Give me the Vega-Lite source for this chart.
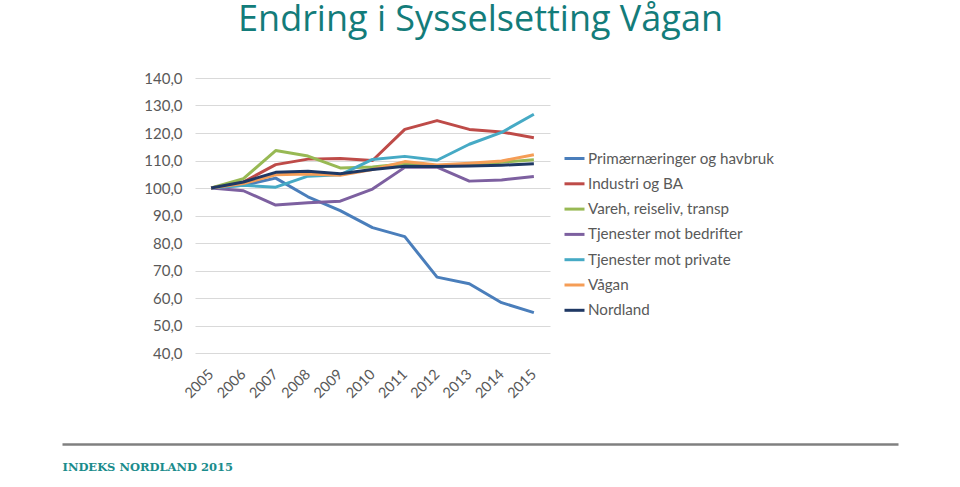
{
  "$schema": "https://vega.github.io/schema/vega-lite/v6.json",
  "background": "white",
  "padding": {"left": 62, "top": 2, "right": 62, "bottom": 5},
  "title": {"text": "Endring i Sysselsetting Vågan", "font": "Open Sans", "fontSize": 36, "fontWeight": "normal", "color": "#137C7A", "anchor": "middle", "offset": 32, "dx": -66},
  "datasets": {
    "sysselsetting": [
      {"series": "Primærnæringer og havbruk", "year": "2005", "value": 100},
      {"series": "Primærnæringer og havbruk", "year": "2006", "value": 101},
      {"series": "Primærnæringer og havbruk", "year": "2007", "value": 103.6},
      {"series": "Primærnæringer og havbruk", "year": "2008", "value": 96.8},
      {"series": "Primærnæringer og havbruk", "year": "2009", "value": 91.8},
      {"series": "Primærnæringer og havbruk", "year": "2010", "value": 85.6},
      {"series": "Primærnæringer og havbruk", "year": "2011", "value": 82.3},
      {"series": "Primærnæringer og havbruk", "year": "2012", "value": 67.6},
      {"series": "Primærnæringer og havbruk", "year": "2013", "value": 65.2},
      {"series": "Primærnæringer og havbruk", "year": "2014", "value": 58.3},
      {"series": "Primærnæringer og havbruk", "year": "2015", "value": 54.7},
      {"series": "Industri og BA", "year": "2005", "value": 100},
      {"series": "Industri og BA", "year": "2006", "value": 102.2},
      {"series": "Industri og BA", "year": "2007", "value": 108.5},
      {"series": "Industri og BA", "year": "2008", "value": 110.5},
      {"series": "Industri og BA", "year": "2009", "value": 110.7},
      {"series": "Industri og BA", "year": "2010", "value": 110},
      {"series": "Industri og BA", "year": "2011", "value": 121.3},
      {"series": "Industri og BA", "year": "2012", "value": 124.5},
      {"series": "Industri og BA", "year": "2013", "value": 121.3},
      {"series": "Industri og BA", "year": "2014", "value": 120.4},
      {"series": "Industri og BA", "year": "2015", "value": 118.3},
      {"series": "Vareh, reiseliv, transp", "year": "2005", "value": 100},
      {"series": "Vareh, reiseliv, transp", "year": "2006", "value": 103.4},
      {"series": "Vareh, reiseliv, transp", "year": "2007", "value": 113.6},
      {"series": "Vareh, reiseliv, transp", "year": "2008", "value": 111.6},
      {"series": "Vareh, reiseliv, transp", "year": "2009", "value": 107.3},
      {"series": "Vareh, reiseliv, transp", "year": "2010", "value": 107.6},
      {"series": "Vareh, reiseliv, transp", "year": "2011", "value": 108.8},
      {"series": "Vareh, reiseliv, transp", "year": "2012", "value": 108},
      {"series": "Vareh, reiseliv, transp", "year": "2013", "value": 108.5},
      {"series": "Vareh, reiseliv, transp", "year": "2014", "value": 109.4},
      {"series": "Vareh, reiseliv, transp", "year": "2015", "value": 110.3},
      {"series": "Tjenester mot bedrifter", "year": "2005", "value": 100},
      {"series": "Tjenester mot bedrifter", "year": "2006", "value": 99},
      {"series": "Tjenester mot bedrifter", "year": "2007", "value": 93.8},
      {"series": "Tjenester mot bedrifter", "year": "2008", "value": 94.6},
      {"series": "Tjenester mot bedrifter", "year": "2009", "value": 95.2},
      {"series": "Tjenester mot bedrifter", "year": "2010", "value": 99.6},
      {"series": "Tjenester mot bedrifter", "year": "2011", "value": 107.5},
      {"series": "Tjenester mot bedrifter", "year": "2012", "value": 107.6},
      {"series": "Tjenester mot bedrifter", "year": "2013", "value": 102.5},
      {"series": "Tjenester mot bedrifter", "year": "2014", "value": 102.9},
      {"series": "Tjenester mot bedrifter", "year": "2015", "value": 104.2},
      {"series": "Tjenester mot private", "year": "2005", "value": 100},
      {"series": "Tjenester mot private", "year": "2006", "value": 101},
      {"series": "Tjenester mot private", "year": "2007", "value": 100.3},
      {"series": "Tjenester mot private", "year": "2008", "value": 104.3},
      {"series": "Tjenester mot private", "year": "2009", "value": 104.8},
      {"series": "Tjenester mot private", "year": "2010", "value": 110.4},
      {"series": "Tjenester mot private", "year": "2011", "value": 111.5},
      {"series": "Tjenester mot private", "year": "2012", "value": 110.1},
      {"series": "Tjenester mot private", "year": "2013", "value": 115.9},
      {"series": "Tjenester mot private", "year": "2014", "value": 120.2},
      {"series": "Tjenester mot private", "year": "2015", "value": 126.8},
      {"series": "Vågan", "year": "2005", "value": 100},
      {"series": "Vågan", "year": "2006", "value": 101.6},
      {"series": "Vågan", "year": "2007", "value": 104.8},
      {"series": "Vågan", "year": "2008", "value": 105.1},
      {"series": "Vågan", "year": "2009", "value": 104.6},
      {"series": "Vågan", "year": "2010", "value": 106.7},
      {"series": "Vågan", "year": "2011", "value": 109.6},
      {"series": "Vågan", "year": "2012", "value": 108.4},
      {"series": "Vågan", "year": "2013", "value": 109},
      {"series": "Vågan", "year": "2014", "value": 109.8},
      {"series": "Vågan", "year": "2015", "value": 112.1},
      {"series": "Nordland", "year": "2005", "value": 100},
      {"series": "Nordland", "year": "2006", "value": 102.2},
      {"series": "Nordland", "year": "2007", "value": 105.7},
      {"series": "Nordland", "year": "2008", "value": 106.1},
      {"series": "Nordland", "year": "2009", "value": 105.2},
      {"series": "Nordland", "year": "2010", "value": 106.7},
      {"series": "Nordland", "year": "2011", "value": 107.9},
      {"series": "Nordland", "year": "2012", "value": 107.8},
      {"series": "Nordland", "year": "2013", "value": 108},
      {"series": "Nordland", "year": "2014", "value": 108.3},
      {"series": "Nordland", "year": "2015", "value": 108.8}
    ],
    "footer": [{"label": "footer"}]
  },
  "spacing": 42,
  "vconcat": [
    {
      "width": 355,
      "height": 275,
      "data": {"name": "sysselsetting"},
      "mark": {"type": "line", "strokeWidth": 3, "strokeJoin": "round"},
      "encoding": {
        "x": {
          "field": "year", "type": "ordinal",
          "scale": {"type": "point", "padding": 0.5},
          "axis": {"title": null, "labelAngle": -45, "labelAlign": "right", "labelBaseline": "middle", "labelFont": "Lato", "labelFontSize": 14.5, "labelColor": "#595959", "domain": false, "ticks": false, "grid": false, "labelPadding": 19}
        },
        "y": {
          "field": "value", "type": "quantitative",
          "scale": {"domain": [40, 140], "nice": false, "zero": false},
          "axis": {"title": null, "values": [40, 50, 60, 70, 80, 90, 100, 110, 120, 130, 140], "labelExpr": "replace(format(datum.value, '.1f'), '.', ',')", "labelFont": "Lato", "labelFontSize": 15, "labelColor": "#595959", "domain": false, "ticks": false, "gridColor": "#D9D9D9", "gridWidth": 1, "labelPadding": 13}
        },
        "color": {
          "field": "series", "type": "nominal",
          "scale": {
            "domain": ["Primærnæringer og havbruk", "Industri og BA", "Vareh, reiseliv, transp", "Tjenester mot bedrifter", "Tjenester mot private", "Vågan", "Nordland"],
            "range": ["#4A7EBB", "#BE4B48", "#98B954", "#7D60A0", "#46AAC5", "#F59D56", "#1F3864"]
          },
          "legend": {"title": null, "orient": "none", "legendX": 368, "legendY": 69, "labelFont": "Lato", "labelFontSize": 15.2, "labelColor": "#595959", "labelLimit": 400, "symbolType": "stroke", "symbolStrokeWidth": 3, "symbolSize": 400, "rowPadding": 5.3, "labelOffset": 2}
        }
      }
    },
    {
      "width": 355,
      "height": 1,
      "data": {"name": "footer"},
      "mark": {"type": "point", "opacity": 0, "size": 0},
      "encoding": {
        "x": {
          "field": "label", "type": "nominal",
          "scale": {"range": [-133, 703]},
          "axis": {"title": "INDEKS NORDLAND 2015", "titleAnchor": "start", "titleFont": "DejaVu Serif", "titleFontWeight": "bold", "titleFontSize": 11.5, "titleColor": "#1A8C8C", "titlePadding": 17, "labels": false, "ticks": false, "grid": false, "domain": true, "domainColor": "#808080", "domainWidth": 2.5}
        }
      }
    }
  ],
  "config": {"view": {"stroke": null}, "font": "Lato"}
}
